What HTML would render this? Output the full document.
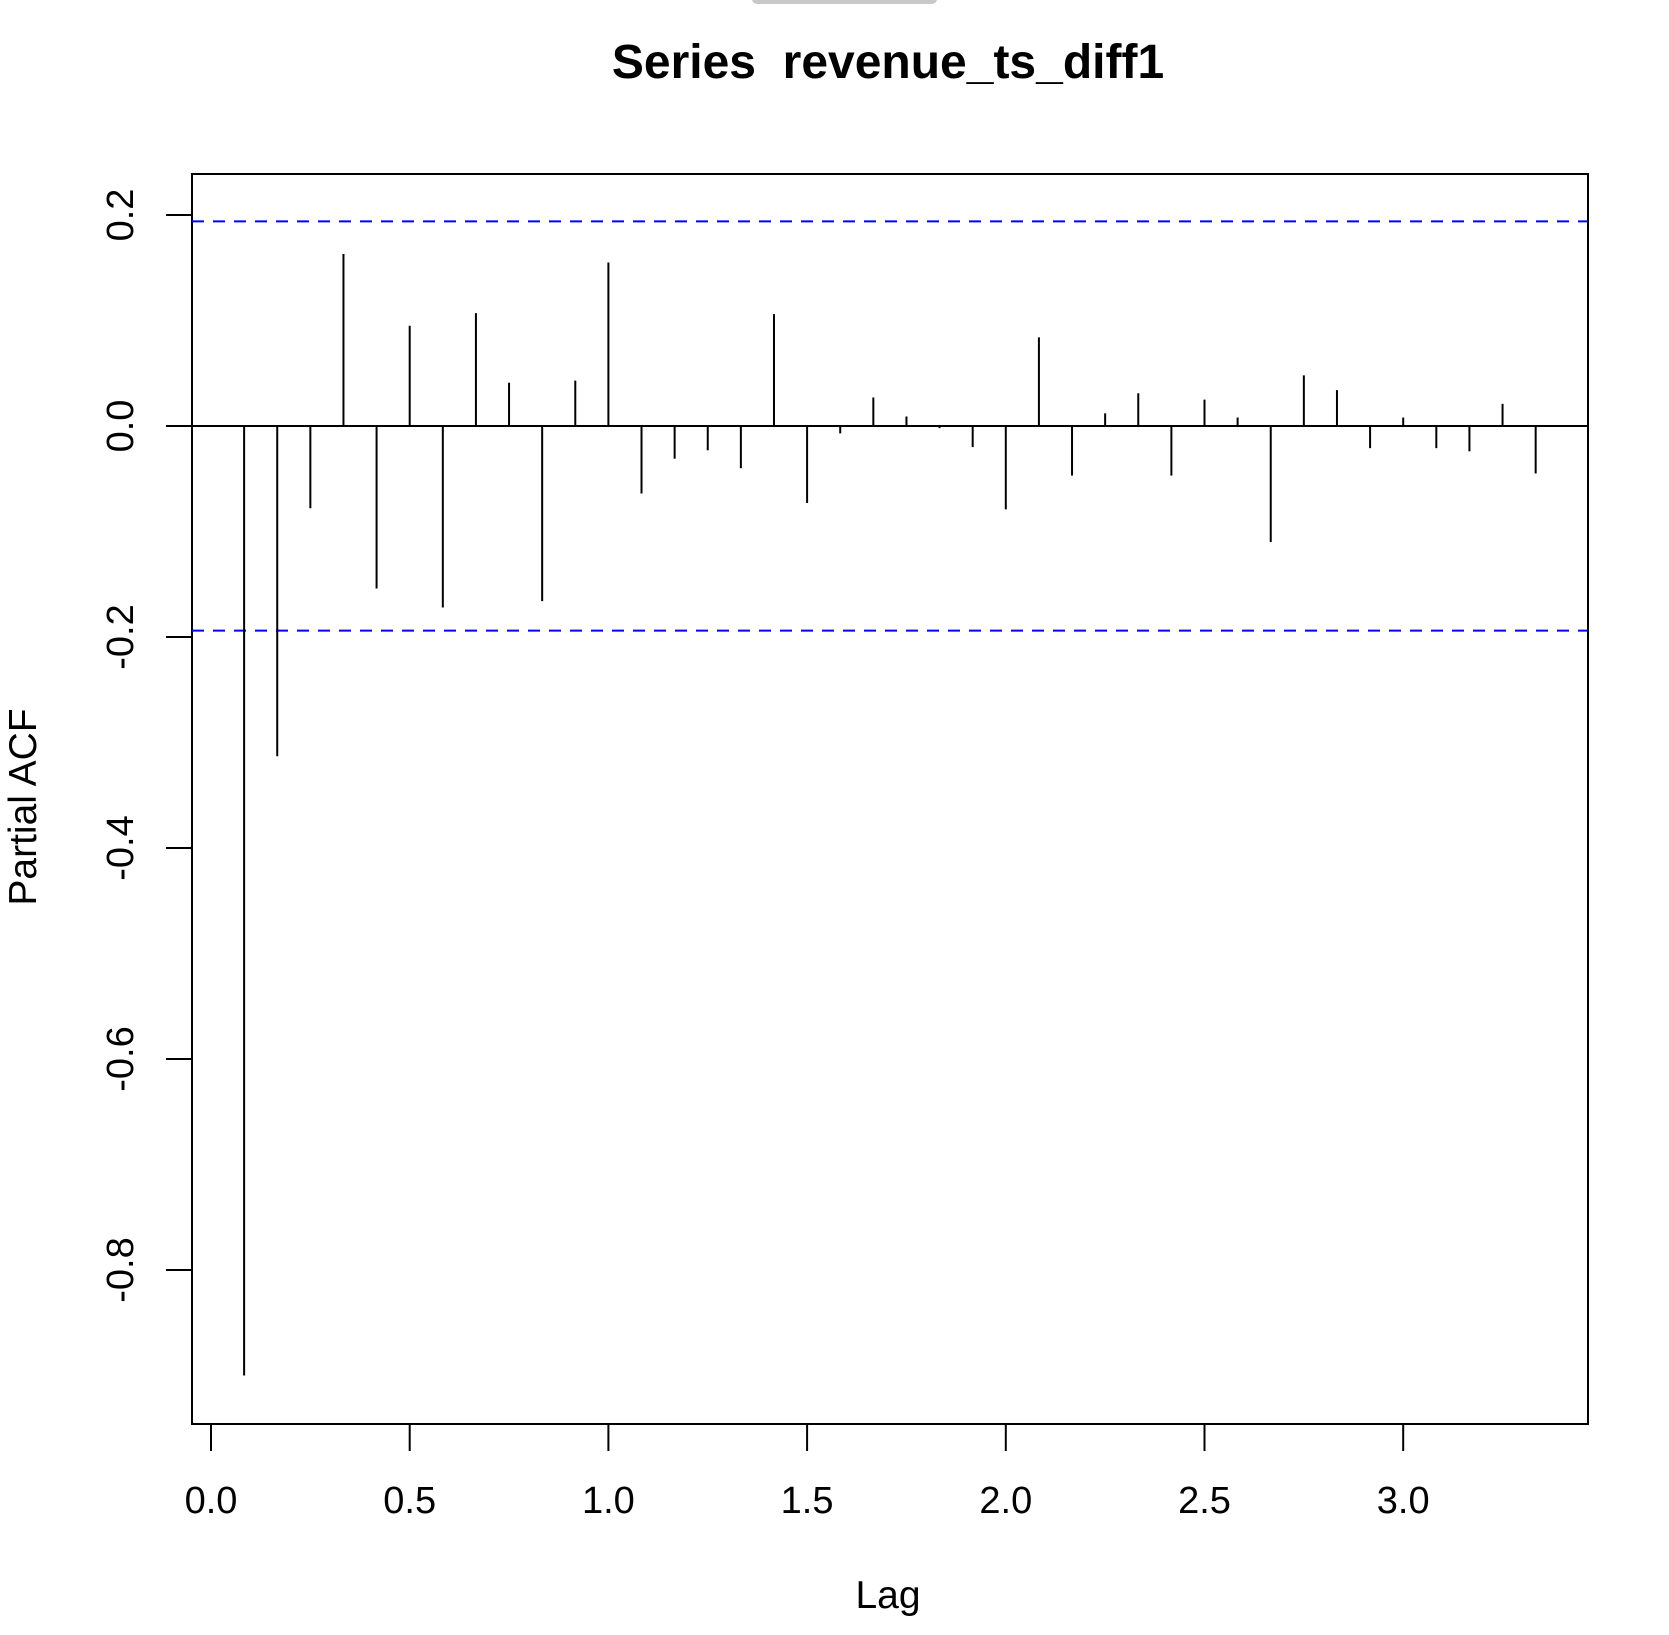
<!DOCTYPE html>
<html><head><meta charset="utf-8"><style>
html,body{margin:0;padding:0;background:#fff;}
svg{display:block;font-family:"Liberation Sans",Arial,sans-serif;}
</style></head><body>
<svg id="chart" width="1669" height="1635" viewBox="0 0 1669 1635">
<rect x="752" y="-6" width="185" height="10" rx="5" fill="#c8c8c8"/>
<text x="888" y="78" text-anchor="middle" font-size="48" font-weight="bold" xml:space="preserve">Series  revenue_ts_diff1</text>
<rect x="192" y="174" width="1396" height="1250" fill="none" stroke="#000" stroke-width="2"/>
<g id="marks"></g>
<g id="axes"></g>
<text x="888" y="1608" text-anchor="middle" font-size="39">Lag</text>
<text transform="translate(36,807) rotate(-90)" text-anchor="middle" font-size="39">Partial ACF</text>
</svg>
<script>
const pacfValues = [-0.90,-0.313,-0.078,0.163,-0.154,0.095,-0.172,0.107,0.041,-0.166,0.043,0.155,-0.064,-0.031,-0.023,-0.040,0.106,-0.073,-0.007,0.027,0.009,-0.002,-0.020,-0.079,0.084,-0.047,0.012,0.031,-0.047,0.025,0.008,-0.110,0.048,0.034,-0.021,0.008,-0.021,-0.024,0.021,-0.045];
const frequency = 12;
const xTicks = [0,0.5,1,1.5,2,2.5,3];
const xTickLabels = ["0.0","0.5","1.0","1.5","2.0","2.5","3.0"];
const yTicks = [0.2,0,-0.2,-0.4,-0.6,-0.8];
const yTickLabels = ["0.2","0.0","-0.2","-0.4","-0.6","-0.8"];
const ciBound = [0.194];

const NS="http://www.w3.org/2000/svg";
const sx = v => 211 + v*397.4;
const sy = v => 426 - v*1055;
const marks=document.getElementById('marks'), axes=document.getElementById('axes');
function mk(tag,attrs,parent){const e=document.createElementNS(NS,tag);for(const k in attrs)e.setAttribute(k,attrs[k]);parent.appendChild(e);return e;}

let z=mk('line',{x1:192,x2:1588,y1:sy(0),y2:sy(0),stroke:'#000','stroke-width':2},marks);


[ciBound[0],-ciBound[0]].forEach((b,i)=>{
 const l=mk('line',{x1:192,x2:1588,y1:sy(b),y2:sy(b),stroke:'#0000ff','stroke-width':2,'stroke-dasharray':'12,9'},marks);
 
 
});
pacfValues.forEach((v,i)=>{
 const x=sx((i+1)/frequency);
 const l=mk('line',{x1:x,x2:x,y1:sy(0),y2:sy(v),stroke:'#000','stroke-width':2},marks);
 
 
});
xTicks.forEach((t,i)=>{
 const x=sx(t);
 const l=mk('line',{x1:x,x2:x,y1:1424,y2:1451,stroke:'#000','stroke-width':2},axes);
 
 
 const tx=mk('text',{x:x,y:1513,'text-anchor':'middle','font-size':38},axes);
 tx.textContent=xTickLabels[i];
 
 
});
const xl=mk('line',{x1:sx(0),x2:sx(3),y1:1424,y2:1424,stroke:'#000','stroke-width':2},axes);


yTicks.forEach((t,i)=>{
 const y=sy(t);
 const l=mk('line',{x1:166,x2:192,y1:y,y2:y,stroke:'#000','stroke-width':2},axes);
 
 
 const tx=mk('text',{transform:'translate(133,'+y+') rotate(-90)','text-anchor':'middle','font-size':38},axes);
 tx.textContent=yTickLabels[i];
 
 
});
</script>
</body></html>
